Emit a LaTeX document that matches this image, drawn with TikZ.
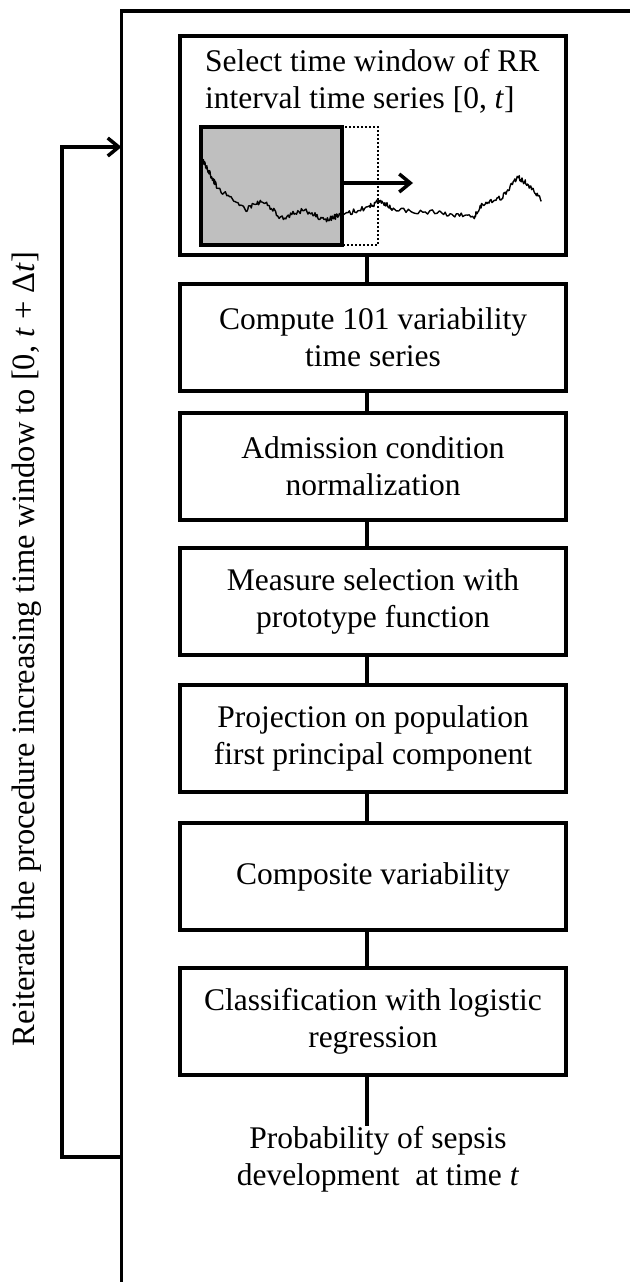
\documentclass[tikz,border=0pt]{standalone}
\usepackage{fontspec}
\setmainfont{Liberation Serif}
\usetikzlibrary{arrows.meta,calc}
\begin{document}
\begin{tikzpicture}[x=1pt,y=-1pt,
  every node/.style={font=\fontsize{31.5}{37}\selectfont},
  stepbox/.style={draw,line width=4pt,minimum width=386pt,minimum height=107pt,align=center,inner sep=0pt},
  link/.style={line width=3.5pt},
  tip/.style={line width=3.5pt,-{Straight Barb[length=11pt,width=18pt,line width=3.5pt]}}]
\useasboundingbox (0,0) rectangle (629,1282);
% outer frame
\coordinate (frBL) at (121.5,1290);
\coordinate (frTL) at (121.5,11);
\coordinate (frTR) at (640,11);
\draw[line width=3.5pt] (frBL) -- (frTL) -- (frTR);
% first box
\node[stepbox,minimum height=219pt] (b1) at (373,145.5) {};
\node[anchor=north west,align=left,inner sep=0pt] (t1) at (205,49)
  {Select time window of RR\\interval time series [0, \textit{t}]};
% time series illustration
\draw[line width=2.5pt,dash pattern=on 2pt off 2pt] (201,127) rectangle (378,245);
\draw[line width=4pt,fill=black!25] (201,127) rectangle (342,245);
\coordinate (shE) at (342,183);
\pgfmathsetseed{7}
\draw[line width=1.4pt,line join=round]
  (203,160) \foreach \xa/\ya/\xb/\yb in {203/160/207/168,207/168/217/187,217/187/245/210,245/210/263/200,263/200/281/218,281/218/305/210,305/210/325/220,325/220/341/215,341/215/369/207,369/207/380/200,380/200/394/210,394/210/442/213,442/213/474/217,474/217/482/205,482/205/502/197,502/197/518/177,518/177/526/183,526/183/542/200}
  { \foreach \t in {0.05,0.1,...,1.0} { -- ({\xa+(\xb-\xa)*\t},{\ya+(\yb-\ya)*\t+2.6*rand}) } };
\draw[tip] (shE) -- (413,183);
% other steps
\node[stepbox] (b2) at (373,337.5) {Compute 101 variability\\time series};
\node[stepbox] (b3) at (373,466.5) {Admission condition\\normalization};
\node[stepbox] (b4) at (373,601.5) {Measure selection with\\prototype function};
\node[stepbox] (b5) at (373,738) {Projection on population\\first principal component};
\node[stepbox] (b6) at (373,876.5) {Composite variability};
\node[stepbox] (b7) at (373,1021) {Classification with logistic\\regression};
\node[anchor=north,align=center,inner sep=0pt] (out) at (378,1126)
  {Probability of sepsis\\development\ \ at time \textit{t}};
% connectors
\foreach \a/\b in {b1/b2,b2/b3,b3/b4,b4/b5,b5/b6,b6/b7}
  \draw[link] ([xshift=-6pt]\a.south) -- ([xshift=-6pt]\b.north);
\draw[link] ([xshift=-6pt]b7.south) -- ([xshift=-6pt]b7.south |- out.north);
% feedback loop
\coordinate (fbB) at (121.5,1157);
\coordinate (fbT) at (121.5,147);
\draw[tip] (fbB) -- (62,1157) |- (fbT);
\node[rotate=90,inner sep=0pt,font=\fontsize{32.5}{38}\selectfont] (loop) at (27,649)
  {Reiterate the procedure increasing time window to [0, \textit{t} + Δ\textit{t}]};
\end{tikzpicture}
\end{document}
